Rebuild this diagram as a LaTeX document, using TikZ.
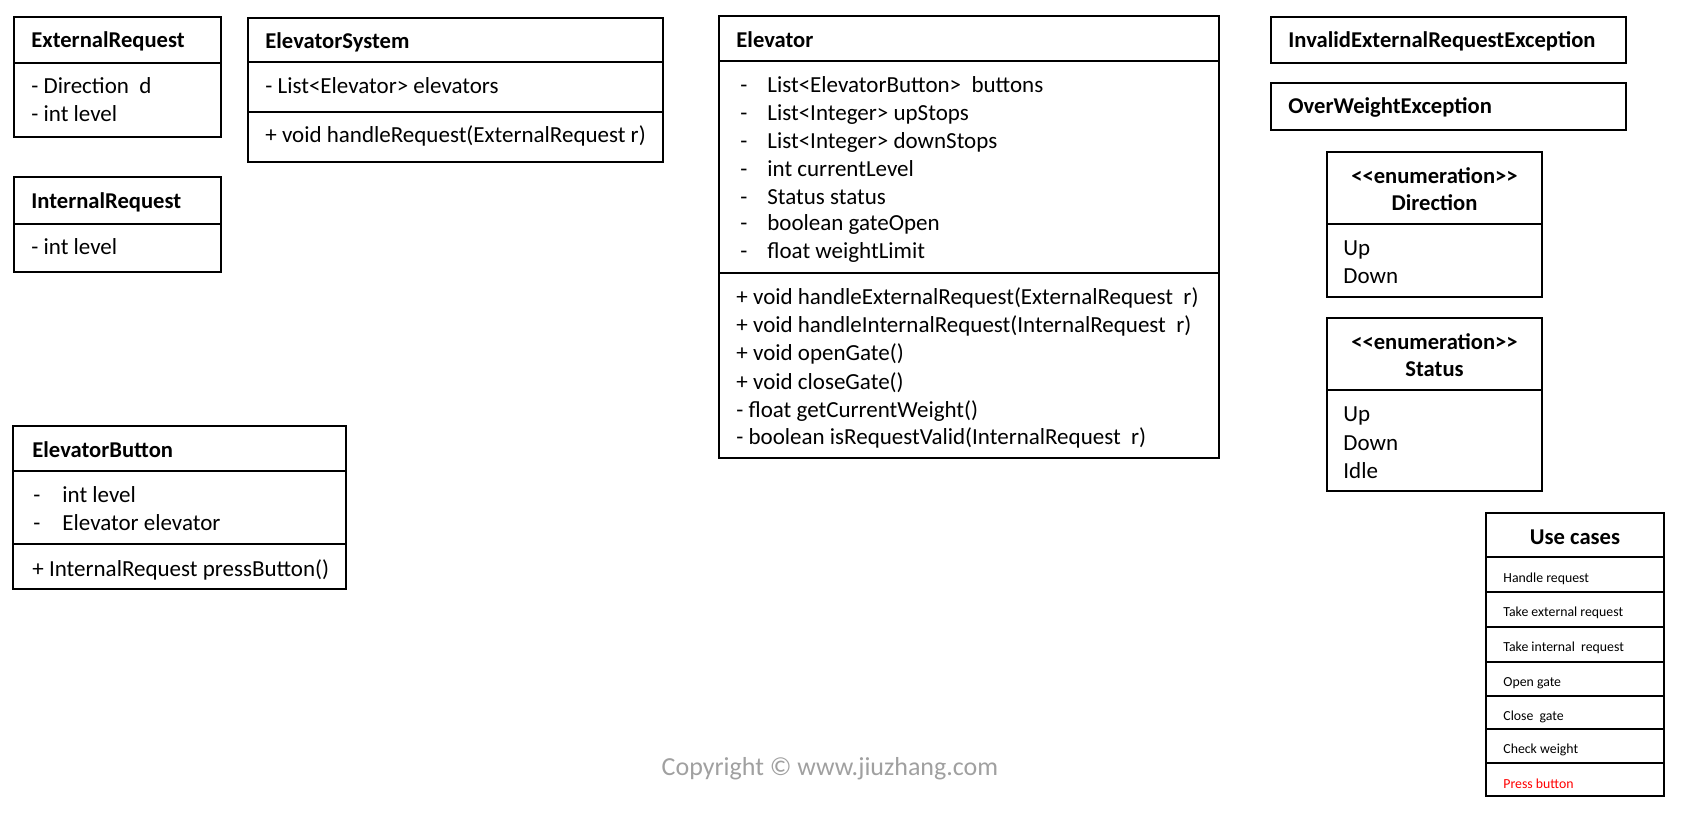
\documentclass[tikz,border=0pt]{standalone}
\usepackage{fontspec}
\setmainfont{Carlito}
\definecolor{cpgray}{RGB}{160,160,160}
\definecolor{ucred}{RGB}{255,0,0}
\tikzset{
  umlbox/.style={line width=1pt},
  clsname/.style={anchor=west, inner sep=0pt, font=\fontsize{11.3}{13}\selectfont\bfseries, text height=10pt, text depth=2.5pt},
  enumname/.style={inner sep=0pt, font=\fontsize{11.3}{13}\selectfont\bfseries, text height=10pt, text depth=2.5pt},
  member/.style={anchor=west, inner sep=0pt, font=\fontsize{11.5}{13}\selectfont, text height=10pt, text depth=2.5pt},
  ucitem/.style={anchor=west, inner sep=0pt, font=\fontsize{6.9}{8}\selectfont, text height=6.5pt, text depth=1.5pt}
}

\begin{document}
\begin{tikzpicture}[x=0.5pt,y=-0.5pt]
    \useasboundingbox (0,0) rectangle (1690,816);

    % ExternalRequest
    \draw[umlbox] (14,17) rectangle (221,137);
    \draw[umlbox] (14,63) -- (221,63);
    \node[clsname] (extreq) at (31,40) {ExternalRequest};
    \node[member] (extreq-a1) at (31,86) {- Direction~ d};
    \node[member] (extreq-a2) at (31,114) {- int level};

    % InternalRequest
    \draw[umlbox] (14,177) rectangle (221,272);
    \draw[umlbox] (14,224) -- (221,224);
    \node[clsname] (intreq) at (31,201) {InternalRequest};
    \node[member] (intreq-a1) at (31,247) {- int level};

    % ElevatorSystem
    \draw[umlbox] (248,18) rectangle (663,162);
    \draw[umlbox] (248,62) -- (663,62);
    \draw[umlbox] (248,112) -- (663,112);
    \node[clsname] (elevsys) at (265,41) {ElevatorSystem};
    \node[member] (elevsys-a1) at (265,86) {- List<Elevator> elevators};
    \node[member] (elevsys-m1) at (265,135) {+ void handleRequest(ExternalRequest r)};

    % ElevatorButton
    \draw[umlbox] (13,426) rectangle (346,589);
    \draw[umlbox] (13,471) -- (346,471);
    \draw[umlbox] (13,544) -- (346,544);
    \node[clsname] (button) at (32,450) {ElevatorButton};
    \foreach \y/\txt [count=\i] in {495/int level, 523/Elevator elevator} {
        \node[member] (button-d\i) at (33,\y) {-};
        \node[member] (button-a\i) at (62,\y) {\txt};
    }
    \node[member] (button-m1) at (32,569) {+ InternalRequest pressButton()};

    % Elevator
    \draw[umlbox] (719,16) rectangle (1219,458);
    \draw[umlbox] (719,61) -- (1219,61);
    \draw[umlbox] (719,273) -- (1219,273);
    \node[clsname] (elev) at (736,40) {Elevator};
    \foreach \y/\txt [count=\i] in {85/List<ElevatorButton>~ buttons, 113/List<Integer> upStops,
            141/List<Integer> downStops, 169/int currentLevel, 197/Status status,
            223/boolean gateOpen, 251/float weightLimit} {
        \node[member] (elev-d\i) at (740,\y) {-};
        \node[member] (elev-a\i) at (767,\y) {\txt};
    }
    \foreach \y/\txt [count=\i] in {297/+ void handleExternalRequest(ExternalRequest~ r),
            325/+ void handleInternalRequest(InternalRequest~ r), 353/+ void openGate(),
            382/+ void closeGate(), 410/- float getCurrentWeight(),
            437/- boolean isRequestValid(InternalRequest~ r)}
        \node[member] (elev-m\i) at (736,\y) {\txt};

    % exceptions
    \draw[umlbox] (1271,17) rectangle (1626,63);
    \node[clsname] (invalidexc) at (1288,40) {InvalidExternalRequestException};
    \draw[umlbox] (1271,83) rectangle (1626,130);
    \node[clsname] (weightexc) at (1288,106) {OverWeightException};

    % enumerations
    \draw[umlbox] (1327,152) rectangle (1542,297);
    \draw[umlbox] (1327,224) -- (1542,224);
    \node[enumname] (dir-st) at (1434.5,176) {<\kern0pt<enumeration>\kern0pt>};
    \node[enumname] (dir) at (1434.5,203) {Direction};
    \node[member] (dir-v1) at (1343,248) {Up};
    \node[member] (dir-v2) at (1343,276) {Down};

    \draw[umlbox] (1327,318) rectangle (1542,491);
    \draw[umlbox] (1327,390) -- (1542,390);
    \node[enumname] (stat-st) at (1434.5,342) {<\kern0pt<enumeration>\kern0pt>};
    \node[enumname] (stat) at (1434.5,369) {Status};
    \foreach \y/\txt [count=\i] in {414/Up, 443/Down, 471/Idle}
        \node[member] (stat-v\i) at (1343,\y) {\txt};

    % use cases
    \draw[umlbox] (1486,513) rectangle (1664,796);
    \foreach \y in {557,592,627,662,696,729,763}
        \draw[umlbox] (1486,\y) -- (1664,\y);
    \node[enumname] (uc) at (1575,537) {Use cases};
    \foreach \y/\txt [count=\i] in {577/Handle request, 611/Take external request,
            646/Take internal~ request, 681/Open gate, 715/Close~ gate, 748/Check weight}
        \node[ucitem] (uc-\i) at (1503,\y) {\txt};
    \node[ucitem, text=ucred] (uc-7) at (1503,783) {Press button};

    \node[inner sep=0pt, font=\fontsize{13}{15}\selectfont, text=cpgray] (copy) at (830,769) {Copyright © www.jiuzhang.com};
\end{tikzpicture}
\end{document}
